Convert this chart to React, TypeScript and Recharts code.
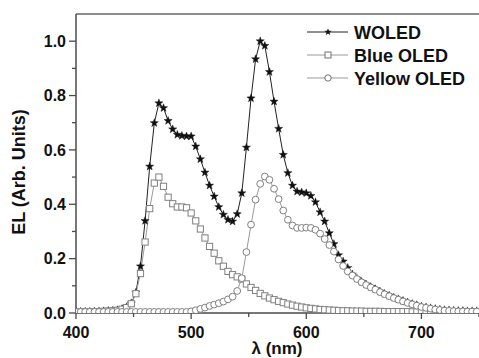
import React from "react";
import { LineChart, Line, XAxis, YAxis, ReferenceLine } from "recharts";

const wavelengths = [
  400, 404, 408, 412, 416, 420, 424, 428, 432, 436, 440, 444, 448, 452, 456, 460, 464, 468, 472, 476,
  480, 484, 488, 492, 496, 500, 504, 508, 512, 516, 520, 524, 528, 532, 536, 540, 544, 548, 552, 556,
  560, 564, 568, 572, 576, 580, 584, 588, 592, 596, 600, 604, 608, 612, 616, 620, 624, 628, 632, 636,
  640, 644, 648, 652, 656, 660, 664, 668, 672, 676, 680, 684, 688, 692, 696, 700, 704, 708, 712, 716,
  720, 724, 728, 732, 736, 740, 744, 748,
];

const woled = [
  0.005, 0.005, 0.005, 0.005, 0.006, 0.006, 0.007, 0.008, 0.009, 0.011, 0.015, 0.022, 0.036, 0.075, 0.172, 0.339, 0.539, 0.699, 0.772, 0.754,
  0.707, 0.676, 0.656, 0.652, 0.65, 0.65, 0.613, 0.566, 0.517, 0.469, 0.429, 0.39, 0.362, 0.343, 0.337, 0.364, 0.441, 0.609, 0.79, 0.934,
  1.0, 0.983, 0.887, 0.778, 0.678, 0.582, 0.515, 0.469, 0.447, 0.444, 0.441, 0.431, 0.408, 0.371, 0.337, 0.294, 0.254, 0.213, 0.19, 0.166,
  0.142, 0.127, 0.115, 0.105, 0.096, 0.088, 0.079, 0.071, 0.064, 0.057, 0.051, 0.045, 0.039, 0.034, 0.029, 0.024, 0.021, 0.018, 0.015, 0.013,
  0.011, 0.01, 0.009, 0.008, 0.008, 0.007, 0.007, 0.007,
];

const blueOled = [
  0.004, 0.004, 0.004, 0.004, 0.005, 0.005, 0.006, 0.007, 0.008, 0.01, 0.014, 0.02, 0.034, 0.071, 0.145, 0.261, 0.384, 0.478, 0.5, 0.466,
  0.426, 0.402, 0.39, 0.39, 0.387, 0.368, 0.339, 0.309, 0.276, 0.245, 0.22, 0.192, 0.172, 0.153, 0.141, 0.133, 0.125, 0.107, 0.094, 0.083,
  0.072, 0.063, 0.055, 0.049, 0.043, 0.038, 0.033, 0.029, 0.025, 0.022, 0.019, 0.017, 0.015, 0.013, 0.012, 0.011, 0.01, 0.009, 0.008, 0.008,
  0.007, 0.007, 0.007, 0.006, 0.006, 0.006, 0.006, 0.005, 0.005, 0.005, 0.005, 0.005, 0.005, 0.004, 0.004, 0.004, 0.004, 0.004, 0.004, 0.004,
  0.004, 0.003, 0.003, 0.003, 0.003, 0.003, 0.003, 0.003,
];

const yellowOled = [
  0.004, 0.004, 0.004, 0.004, 0.004, 0.004, 0.004, 0.004, 0.004, 0.004, 0.004, 0.004, 0.004, 0.004, 0.004, 0.004, 0.004, 0.004, 0.004, 0.004,
  0.004, 0.004, 0.004, 0.004, 0.004, 0.006, 0.01, 0.015, 0.02, 0.026, 0.031, 0.036, 0.042, 0.05, 0.06, 0.081, 0.128, 0.224, 0.325, 0.417,
  0.475, 0.502, 0.49, 0.457, 0.419, 0.377, 0.343, 0.322, 0.313, 0.313, 0.314, 0.313, 0.306, 0.292, 0.272, 0.25, 0.226, 0.197, 0.173, 0.153,
  0.138, 0.125, 0.113, 0.103, 0.094, 0.086, 0.077, 0.069, 0.062, 0.055, 0.049, 0.043, 0.037, 0.032, 0.027, 0.022, 0.019, 0.016, 0.013, 0.011,
  0.009, 0.008, 0.007, 0.006, 0.006, 0.005, 0.005, 0.005,
];

const xTicks = [400, 450, 500, 550, 600, 650, 700, 750];
const xTickLabels = ["400", "500", "600", "700"];
const yTicks = [0, 0.1, 0.2, 0.3, 0.4, 0.5, 0.6, 0.7, 0.8, 0.9, 1.0];
const seriesNames = ["WOLED", "Blue OLED", "Yellow OLED"];

const data = wavelengths.map((x, i) => ({
  x,
  woled: woled[i],
  blue: blueOled[i],
  yellow: yellowOled[i],
}));

const FONT = "'Liberation Sans', Arial, Helvetica, sans-serif";
const AXIS = "#4a4a4a";

function starPath(cx: number, cy: number, R: number, r: number) {
  let d = "";
  for (let i = 0; i < 10; i++) {
    const ang = -Math.PI / 2 + (i * Math.PI) / 5;
    const rad = i % 2 === 0 ? R : r;
    const px = cx + rad * Math.cos(ang);
    const py = cy + rad * Math.sin(ang);
    d += (i === 0 ? "M" : "L") + px.toFixed(2) + "," + py.toFixed(2);
  }
  return d + "Z";
}

const StarDot = (props: any) => {
  const { cx, cy, index } = props;
  if (cx == null || cy == null) return <g key={"s" + index} />;
  return <path key={"s" + index} d={starPath(cx, cy, 4.3, 1.8)} fill="#111" stroke="#111" strokeWidth={0.4} />;
};

const SquareDot = (props: any) => {
  const { cx, cy, index } = props;
  if (cx == null || cy == null) return <g key={"q" + index} />;
  return <rect key={"q" + index} x={cx - 3.1} y={cy - 3.1} width={6.2} height={6.2} fill="#fff" stroke="#808080" strokeWidth={1} />;
};

const CircleDot = (props: any) => {
  const { cx, cy, index } = props;
  if (cx == null || cy == null) return <g key={"c" + index} />;
  return <circle key={"c" + index} cx={cx} cy={cy} r={3.4} fill="#fff" stroke="#808080" strokeWidth={1} />;
};

const YTick = (props: any) => {
  const { x, y, payload } = props;
  const v = payload.value as number;
  const major = Math.round(v * 10) % 2 === 0;
  return (
    <g>
      <line x1={x - (major ? 7 : 4)} x2={x} y1={y} y2={y} stroke={AXIS} strokeWidth={1.3} />
      {major && (
        <text x={x - 10} y={y + 5.8} textAnchor="end" fontFamily={FONT} fontWeight="bold" fontSize={16} fill="#111">
          {v.toFixed(1)}
        </text>
      )}
    </g>
  );
};

const XTick = (props: any) => {
  const { x, y, payload } = props;
  const v = payload.value as number;
  const label = String(v);
  const major = xTickLabels.includes(label);
  return (
    <g>
      <line x1={x} x2={x} y1={y} y2={y + (major ? 6 : 4)} stroke={AXIS} strokeWidth={1.3} />
      {major && (
        <text x={x} y={y + 25} textAnchor="middle" fontFamily={FONT} fontWeight="bold" fontSize={16} fill="#111">
          {label}
        </text>
      )}
    </g>
  );
};

const LegendBox = () => {
  const rows = [
    { name: seriesNames[0], y: 32, line: "#222", kind: "star" },
    { name: seriesNames[1], y: 55, line: "#9a9a9a", kind: "square" },
    { name: seriesNames[2], y: 78, line: "#9a9a9a", kind: "circle" },
  ];
  return (
    <svg width={479} height={358} style={{ position: "absolute", left: 0, top: 0, pointerEvents: "none" }}>
      {rows.map((r) => (
        <g key={r.name}>
          <line x1={307} x2={348} y1={r.y} y2={r.y} stroke={r.line} strokeWidth={1} />
          {r.kind === "star" && <path d={starPath(328, r.y, 3.8, 1.6)} fill="#111" />}
          {r.kind === "square" && (
            <rect x={325} y={r.y - 3} width={6} height={6} fill="#fff" stroke="#707070" strokeWidth={1} />
          )}
          {r.kind === "circle" && <circle cx={328} cy={r.y} r={3.2} fill="#fff" stroke="#707070" strokeWidth={1} />}
          <text x={354} y={r.y + 6.5} fontFamily={FONT} fontWeight="bold" fontSize={18} fill="#111">
            {r.name}
          </text>
        </g>
      ))}
    </svg>
  );
};

export default function App() {
  return (
    <div style={{ position: "absolute", left: 0, top: 0, width: 479, height: 358, background: "#fff", overflow: "hidden" }}>
      <LineChart width={479} height={358} data={data} margin={{ top: 14, right: 0, left: 0, bottom: 0 }}>
        <XAxis
          dataKey="x"
          type="number"
          domain={[400, 750]}
          ticks={xTicks}
          allowDataOverflow
          height={45}
          stroke={AXIS}
          strokeWidth={1.5}
          tickLine={false}
          tickSize={0}
          tickMargin={0}
          tick={<XTick />}
          interval={0}
        />
        <YAxis
          type="number"
          domain={[0, 1.1]}
          ticks={yTicks}
          allowDataOverflow
          width={76}
          stroke={AXIS}
          strokeWidth={1.5}
          tickLine={false}
          tickSize={0}
          tickMargin={0}
          tick={<YTick />}
          interval={0}
        />
        <ReferenceLine y={1.1} stroke="#666" strokeWidth={1.5} />
        <Line
          dataKey="woled"
          type="linear"
          stroke="#222"
          strokeWidth={1}
          dot={<StarDot />}
          activeDot={false}
          isAnimationActive={false}
        />
        <Line
          dataKey="blue"
          type="linear"
          stroke="#9a9a9a"
          strokeWidth={1}
          dot={<SquareDot />}
          activeDot={false}
          isAnimationActive={false}
        />
        <Line
          dataKey="yellow"
          type="linear"
          stroke="#9a9a9a"
          strokeWidth={1}
          dot={<CircleDot />}
          activeDot={false}
          isAnimationActive={false}
        />
      </LineChart>
      <svg width={479} height={358} style={{ position: "absolute", left: 0, top: 0, pointerEvents: "none" }}>
        <text
          x={25}
          y={172}
          transform="rotate(-90, 25, 172)"
          textAnchor="middle"
          fontFamily={FONT}
          fontWeight="bold"
          fontSize={18}
          fill="#111"
        >
          EL (Arb. Units)
        </text>
        <text x={277} y={354} textAnchor="middle" fontFamily={FONT} fontWeight="bold" fontSize={17} fill="#111">
          λ (nm)
        </text>
      </svg>
      <LegendBox />
    </div>
  );
}
